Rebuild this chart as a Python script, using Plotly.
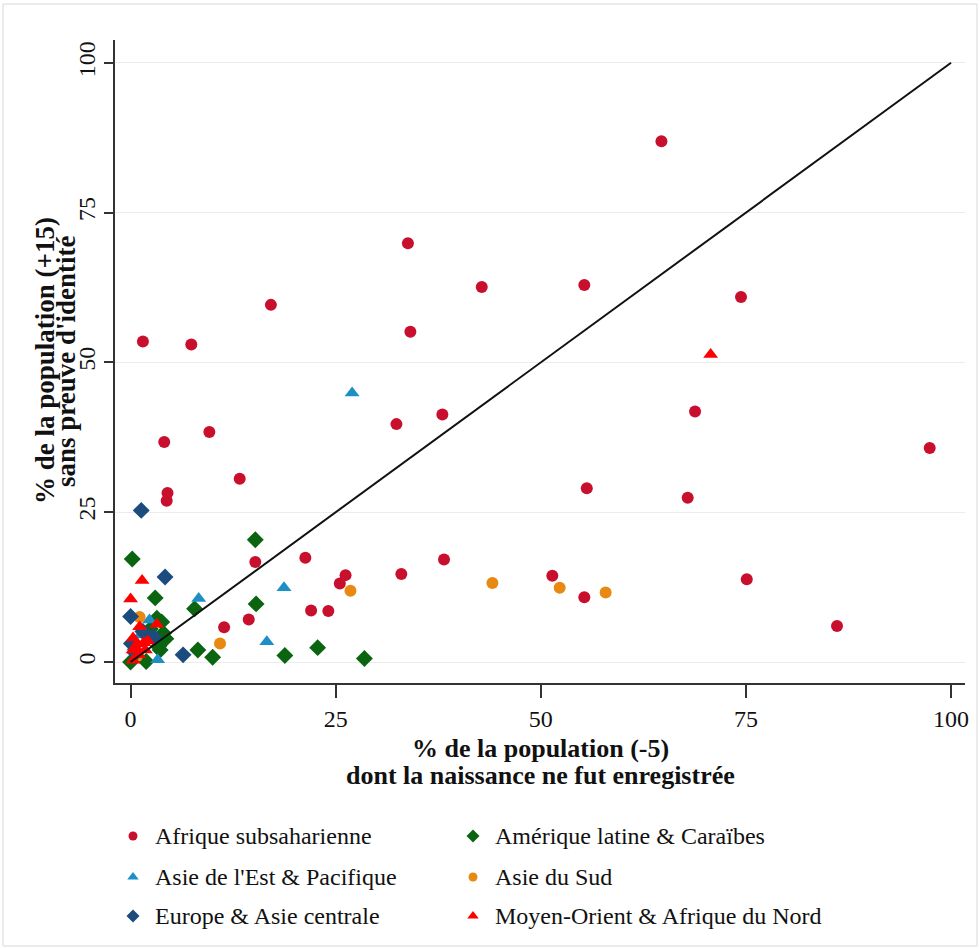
import plotly.graph_objects as go

# ---------------- data ----------------
regions = ["Afrique subsaharienne", "Amérique latine & Caraïbes",
           "Asie de l'Est & Pacifique", "Asie du Sud",
           "Europe & Asie centrale", "Moyen-Orient & Afrique du Nord"]

ssa_x = [1.5, 7.4, 17.1, 33.8, 34.1, 42.8, 64.7, 55.3, 74.4, 68.8, 97.4, 55.6,
         67.9, 51.4, 55.3, 75.1, 86.1, 4.1, 9.6, 4.5, 4.4, 13.3, 32.4, 38.0,
         15.2, 21.3, 26.2, 25.5, 33.0, 38.2, 22.0, 24.1, 14.4, 11.4]
ssa_y = [53.5, 53.0, 59.6, 69.9, 55.1, 62.6, 86.9, 62.9, 60.9, 41.8, 35.7, 29.0,
         27.4, 14.4, 10.8, 13.8, 6.0, 36.7, 38.4, 28.2, 26.9, 30.6, 39.7, 41.3,
         16.7, 17.4, 14.5, 13.1, 14.7, 17.1, 8.6, 8.5, 7.1, 5.8]

lac_x = [15.2, 0.2, 3.0, 7.8, 15.3, 8.2, 10.0, 18.8, 22.8, 28.5, 1.9, 0.0,
         3.2, 3.8, 4.0, 3.6, 4.3, 3.4, 2.4]
lac_y = [20.4, 17.2, 10.7, 8.9, 9.7, 2.0, 0.8, 1.1, 2.4, 0.6, 0.1, 0.0,
         7.3, 6.7, 4.8, 2.0, 3.9, 2.6, 5.5]

eap_x = [27.0, 18.7, 8.3, 16.6, 3.3, 2.3, 2.3, 1.2, 0.4]
eap_y = [44.9, 12.4, 10.6, 3.4, 0.4, 7.0, 3.7, 4.5, 2.5]

sa_x = [44.1, 26.8, 10.9, 1.1, 52.3, 57.9, 0.8]
sa_y = [13.2, 11.9, 3.1, 7.5, 12.4, 11.6, 1.0]

eca_x = [1.3, 4.2, 0.0, 6.4, 1.5, 0.1, 0.6, 2.8]
eca_y = [25.3, 14.2, 7.6, 1.2, 5.1, 3.1, 1.5, 4.2]

mena_x = [70.7, 1.4, 0.0, 3.2, 1.1, 0.3, 0.8, 1.6, 2.1, 0.3, 0.3, 1.0, 0.6, 1.8]
mena_y = [51.3, 13.6, 10.5, 6.3, 5.9, 4.0, 3.0, 3.2, 3.5, 2.0, 0.3, 1.2, 2.5, 2.0]

diag_x = [0, 100]
diag_y = [0, 100]

tick_vals = [0, 25, 50, 75, 100]
tick_text = ["0", "25", "50", "75", "100"]

x_title = ["% de la population (-5)", "dont la naissance ne fut enregistrée"]
y_title = ["% de la population (+15)", "sans preuve d'identité"]

# ---------------- styling ----------------
FONT = "Liberation Serif"
styles = [
    ("circle", "#c8102e", 12),
    ("diamond", "#0a6410", 13),
    ("triangle-up", "#1e8fc6", 13),
    ("circle", "#e88a12", 12),
    ("diamond", "#1c4c7e", 13),
    ("triangle-up", "#ff0000", 13),
]
data_xy = [(ssa_x, ssa_y), (lac_x, lac_y), (eap_x, eap_y),
           (sa_x, sa_y), (eca_x, eca_y), (mena_x, mena_y)]

fig = go.Figure()
for name, (xs, ys), (sym, col, sz) in zip(regions, data_xy, styles):
    fig.add_trace(go.Scatter(
        x=xs, y=ys, mode="markers", name=name, showlegend=False,
        marker=dict(symbol=sym, color=col, size=sz, line=dict(width=0)),
        xaxis="x", yaxis="y"))

fig.add_trace(go.Scatter(x=diag_x, y=diag_y, mode="lines", showlegend=False,
                         line=dict(color="#111111", width=2)))

# ---------------- hand-made legend (pixel-coordinate overlay axes) ----------------
leg_col_x = [133, 473]
leg_row_y = [836, 877, 916]
leg_sizes = [9, 10, 10, 9, 10, 10]
annotations = []
for i, (name, (sym, col, sz)) in enumerate(zip(regions, styles)):
    cx = leg_col_x[i % 2]
    cy = leg_row_y[i // 2]
    fig.add_trace(go.Scatter(
        x=[cx], y=[-cy], mode="markers", showlegend=False, hoverinfo="skip",
        marker=dict(symbol=sym, color=col, size=leg_sizes[i], line=dict(width=0)),
        xaxis="x2", yaxis="y2"))
    annotations.append(dict(
        x=cx + 20, y=-cy, xref="x2", yref="y2", text=name, showarrow=False,
        xanchor="left", yanchor="middle",
        font=dict(family=FONT, size=24, color="#111111")))

# axis titles as separate lines (tight line spacing as in the reference)
W, H = 980, 949
ML, MR, MT, MB = 115, 15, 40, 10
PW, PH = W - ML - MR, H - MT - MB

def px_x(p):
    return (p - ML) / PW

def px_y(p):
    return (H - MB - p) / PH

annotations.append(dict(x=px_x(540), y=px_y(748), xref="paper", yref="paper",
                        text=x_title[0], showarrow=False, xanchor="center", yanchor="middle",
                        font=dict(family=FONT, size=26, color="#111111", weight="bold")))
annotations.append(dict(x=px_x(540), y=px_y(776), xref="paper", yref="paper",
                        text=x_title[1], showarrow=False, xanchor="center", yanchor="middle",
                        font=dict(family=FONT, size=26, color="#111111", weight="bold")))
annotations.append(dict(x=px_x(45), y=px_y(361), xref="paper", yref="paper",
                        text=y_title[0], showarrow=False, textangle=-90,
                        xanchor="center", yanchor="middle",
                        font=dict(family=FONT, size=27, color="#111111", weight="bold")))
annotations.append(dict(x=px_x(66), y=px_y(361), xref="paper", yref="paper",
                        text=y_title[1], showarrow=False, textangle=-90,
                        xanchor="center", yanchor="middle",
                        font=dict(family=FONT, size=27, color="#111111", weight="bold")))

y_dom_bottom = px_y(683)

fig.update_layout(
    width=W, height=H,
    margin=dict(l=ML, r=MR, t=MT, b=MB),
    paper_bgcolor="white", plot_bgcolor="white",
    font=dict(family=FONT, size=24, color="#111111"),
    xaxis=dict(domain=[0, 1], range=[-1.9, 101.7], tickvals=tick_vals, ticktext=tick_text,
               showgrid=False, zeroline=False, showline=True, linecolor="#333333", linewidth=1.5,
               ticks="outside", ticklen=13, tickwidth=1.5, tickcolor="#333333",
               tickfont=dict(family=FONT, size=24, color="#111111")),
    yaxis=dict(domain=[y_dom_bottom, 1], range=[-3.5, 103.8], tickvals=tick_vals, ticktext=tick_text,
               showgrid=True, gridcolor="#ececec", gridwidth=1.2, zeroline=False,
               showline=True, linecolor="#333333", linewidth=1.5,
               ticks="outside", ticklen=9, tickwidth=1.5, tickcolor="#333333",
               tickangle=-90, tickfont=dict(family=FONT, size=24, color="#111111")),
    xaxis2=dict(domain=[0, 1], range=[ML, W - MR], visible=False, fixedrange=True,
                anchor="y2"),
    yaxis2=dict(domain=[0, 0.25], range=[-(H - MB), -(H - MB - 0.25 * PH)], visible=False,
                fixedrange=True, anchor="x2"),
    annotations=annotations,
    shapes=[dict(type="rect", xref="paper", yref="paper",
                 x0=px_x(3), x1=px_x(977), y0=px_y(946), y1=px_y(4),
                 line=dict(color="#d8d8d8", width=1), fillcolor="rgba(0,0,0,0)", layer="below")],
    showlegend=False,
)

fig.write_html("out.html", config={"displayModeBar": False},
               post_script="document.body.style.margin='0';document.body.style.overflow='hidden';")
